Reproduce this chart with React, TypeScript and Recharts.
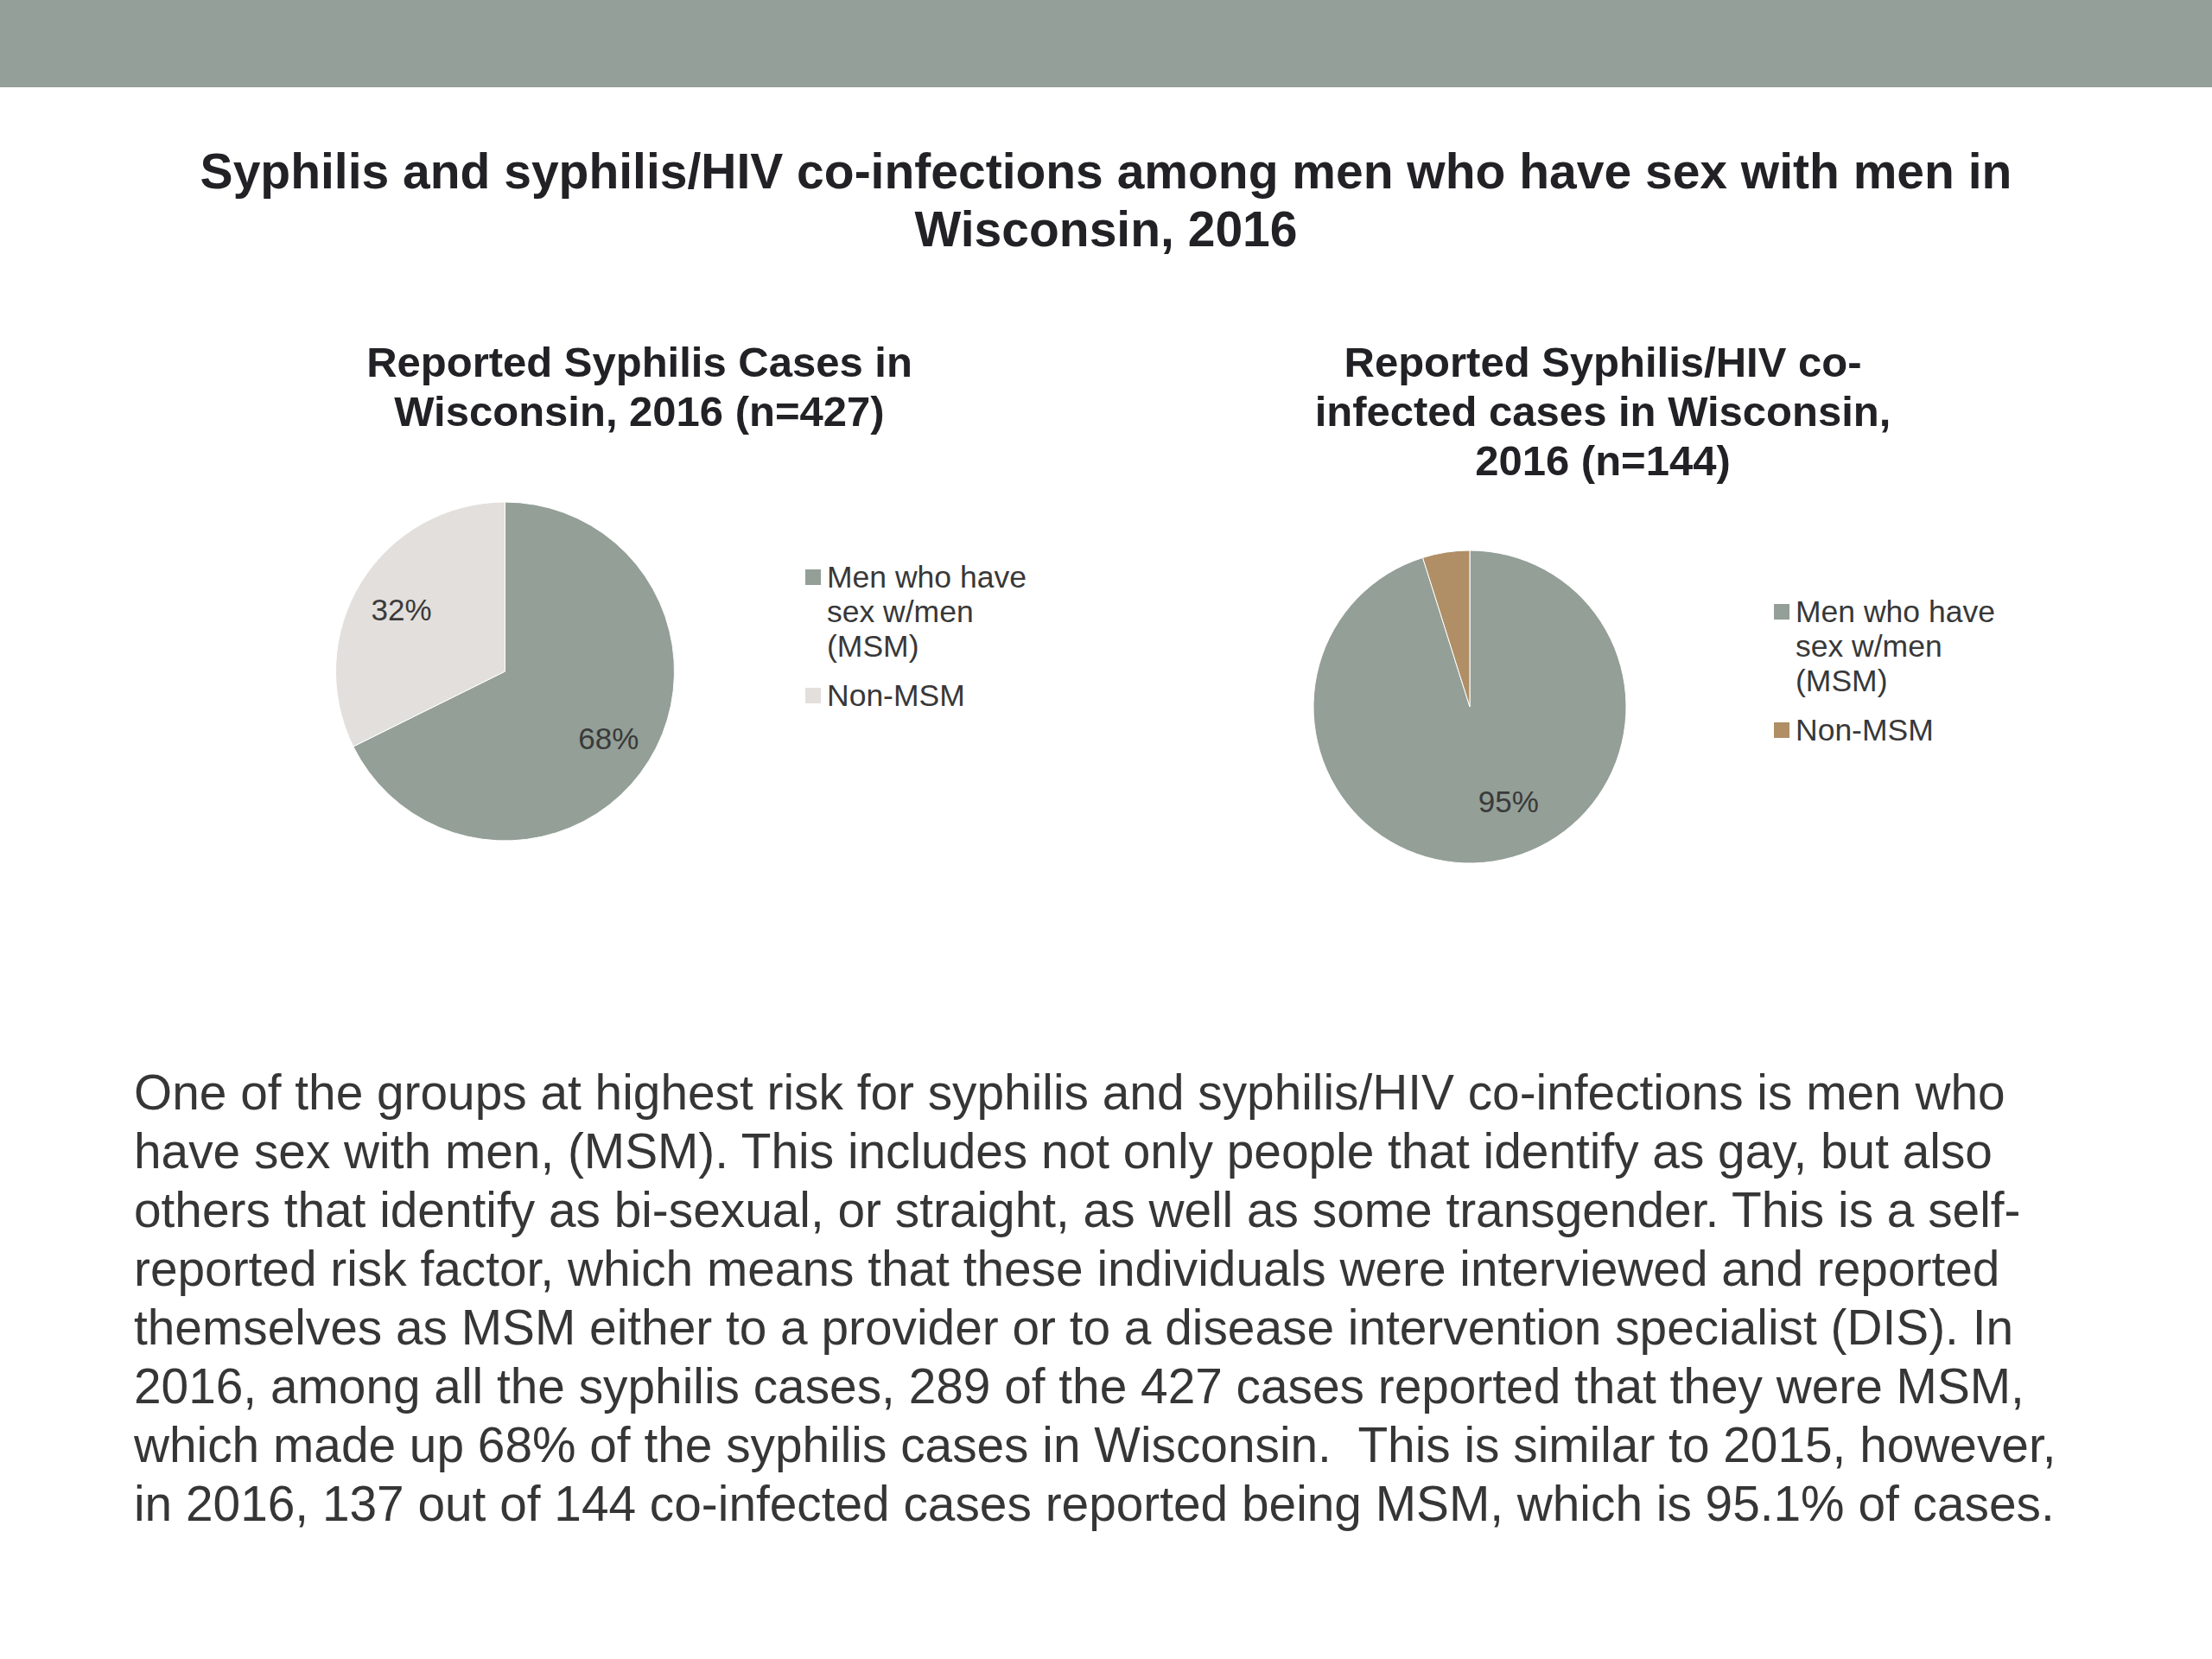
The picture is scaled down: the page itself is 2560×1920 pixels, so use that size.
import React from 'react';
import { PieChart, Pie, Cell, Legend } from 'recharts';

// categories + values
const categories = ['Men who have sex w/men (MSM)', 'Non-MSM'];
const syphilisCases = [289, 138]; // n=427
const coinfectedCases = [137, 7]; // n=144
const syphilisColors = ['#939F97', '#E3DFDC'];
const coinfectedColors = ['#939F97', '#B08F66'];
const syphilisLabelShown = [true, true];
const coinfectedLabelShown = [true, false];

const titleLines = ['Syphilis and syphilis/HIV co-infections among men who have sex with men in', 'Wisconsin, 2016'];
const leftTitleLines = ['Reported Syphilis Cases in', 'Wisconsin, 2016 (n=427)'];
const rightTitleLines = ['Reported Syphilis/HIV co-', 'infected cases in Wisconsin,', '2016 (n=144)'];

const bodyLines = [
    'One of the groups at highest risk for syphilis and syphilis/HIV co-infections is men who',
    'have sex with men, (MSM). This includes not only people that identify as gay, but also',
    'others that identify as bi-sexual, or straight, as well as some transgender. This is a self-',
    'reported risk factor, which means that these individuals were interviewed and reported',
    'themselves as MSM either to a provider or to a disease intervention specialist (DIS). In',
    '2016, among all the syphilis cases, 289 of the 427 cases reported that they were MSM,',
    'which made up 68% of the syphilis cases in Wisconsin.  This is similar to 2015, however,',
    'in 2016, 137 out of 144 co-infected cases reported being MSM, which is 95.1% of cases.',
];

const FONT = '"Liberation Sans", Arial, Helvetica, sans-serif';
const RADIAN = Math.PI / 180;

interface PieBlockProps {
    values: number[];
    colors: string[];
    labelShown: boolean[];
    left: number;
    cx: number;
    cy: number;
    radius: number;
    legendLeft: number;
    legendTop: number;
    labelRadius?: number;
    labelRotate?: number;
}

const PieBlock: React.FC<PieBlockProps> = ({
    values, colors, labelShown, left, cx, cy, radius, legendLeft, legendTop, labelRadius = 0.72, labelRotate = 0,
}) => {
    const data = categories.map((name, i) => ({ name, value: values[i] }));

    const renderLabel = (props: any) => {
        const { midAngle, percent, index } = props;
        if (!labelShown[index]) return null;
        const ang = (midAngle + labelRotate) * RADIAN;
        const r = radius * labelRadius;
        const x = props.cx + r * Math.cos(-ang);
        const y = props.cy + r * Math.sin(-ang) + 3;
        return (
            <text x={x} y={y} textAnchor="middle" dominantBaseline="central"
                fill="#3a3a3a" fontSize={35} fontFamily={FONT}>
                {Math.round(percent * 100)}%
            </text>
        );
    };

    const renderLegend = () => (
        <div style={{ fontFamily: FONT, fontSize: 35.5, lineHeight: '40px', color: '#383838' }}>
            {categories.map((c, i) => (
                <div key={c} style={{ display: 'flex', alignItems: 'flex-start', marginBottom: i === 0 ? 17 : 0 }}>
                    <div style={{ width: 18, height: 18, background: colors[i], marginTop: 11, marginRight: 7, flexShrink: 0 }} />
                    <div style={{ width: 240 }}>{c}</div>
                </div>
            ))}
        </div>
    );

    return (
        <div style={{ position: 'absolute', left, top: 500 }}>
            <PieChart width={1280} height={600} margin={{ top: 0, right: 0, bottom: 0, left: 0 }}>
                <Pie
                    data={data}
                    dataKey="value"
                    nameKey="name"
                    cx={cx}
                    cy={cy}
                    outerRadius={radius}
                    startAngle={90}
                    endAngle={-270}
                    stroke="#ffffff"
                    strokeWidth={1}
                    label={renderLabel}
                    labelLine={false}
                    isAnimationActive={false}
                >
                    {data.map((d, i) => <Cell key={d.name} fill={colors[i]} />)}
                </Pie>
                <Legend
                    layout="vertical"
                    content={renderLegend}
                    wrapperStyle={{ left: legendLeft, top: legendTop, width: 300 }}
                />
            </PieChart>
        </div>
    );
};

export default function App() {
    return (
        <div style={{ position: 'absolute', left: 0, top: 0, width: 2560, height: 1920, background: '#ffffff', overflow: 'hidden' }}>
            <div style={{ position: 'absolute', left: 0, top: 0, width: 2560, height: 101, background: '#939F98' }} />

            <div style={{
                position: 'absolute', left: 0, top: 165, width: 2560, textAlign: 'center',
                fontFamily: FONT, fontWeight: 'bold', fontSize: 57, lineHeight: '67px', color: '#222226',
            }}>
                {titleLines.map(l => <div key={l}>{l}</div>)}
            </div>

            <div style={{
                position: 'absolute', left: 340, top: 391, width: 800, textAlign: 'center',
                fontFamily: FONT, fontWeight: 'bold', fontSize: 49, lineHeight: '57px', color: '#222226',
            }}>
                {leftTitleLines.map(l => <div key={l}>{l}</div>)}
            </div>

            <div style={{
                position: 'absolute', left: 1455, top: 391, width: 800, textAlign: 'center',
                fontFamily: FONT, fontWeight: 'bold', fontSize: 49, lineHeight: '57px', color: '#222226',
            }}>
                {rightTitleLines.map(l => <div key={l}>{l}</div>)}
            </div>

            <PieBlock values={syphilisCases} colors={syphilisColors} labelShown={syphilisLabelShown}
                left={0} cx={584.5} cy={277} radius={196} legendLeft={932} legendTop={148} />
            <PieBlock values={coinfectedCases} colors={coinfectedColors} labelShown={coinfectedLabelShown}
                left={1280} cx={421} cy={318} radius={181} legendLeft={773} legendTop={188}
                labelRadius={0.64} labelRotate={14} />

            <div style={{
                position: 'absolute', left: 155, top: 1231, fontFamily: FONT, fontSize: 56.8,
                lineHeight: '68px', color: '#363636', whiteSpace: 'pre',
            }}>
                {bodyLines.map(l => <div key={l}>{l}</div>)}
            </div>
        </div>
    );
}
